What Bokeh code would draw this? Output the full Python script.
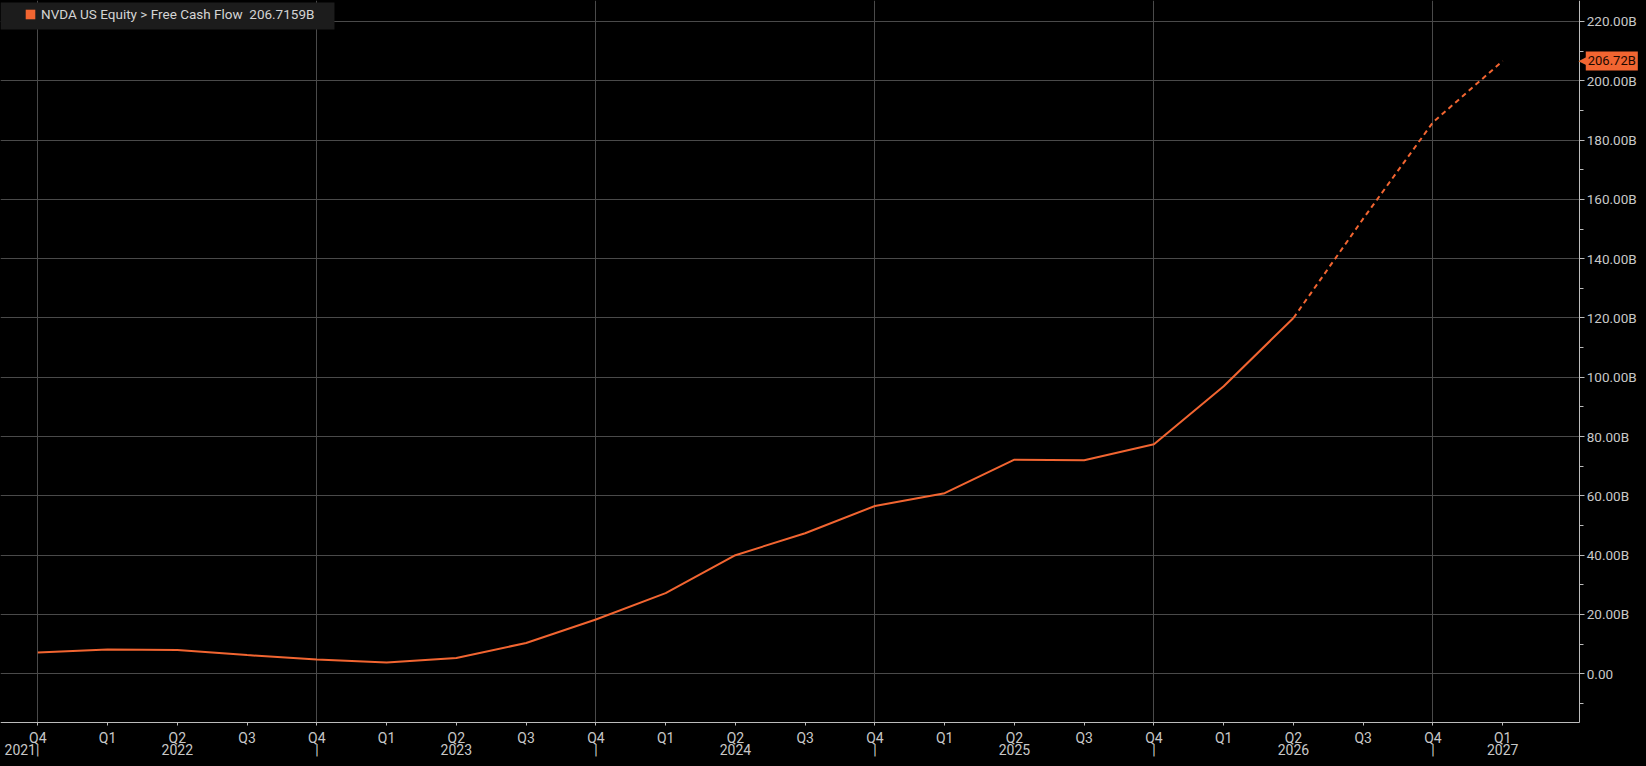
from bokeh.plotting import figure
from bokeh.models import (Range1d, FixedTicker, LinearAxis, CustomJSTickFormatter,
                          Legend, LegendItem, Label, ColumnDataSource, BoxAnnotation)
from bokeh.embed import file_html
from bokeh.resources import INLINE

# ---------------- data ----------------
quarters = ["Q4", "Q1", "Q2", "Q3", "Q4", "Q1", "Q2", "Q3", "Q4", "Q1", "Q2",
            "Q3", "Q4", "Q1", "Q2", "Q3", "Q4", "Q1", "Q2", "Q3", "Q4", "Q1"]
years = [2021, 2022, 2022, 2022, 2022, 2023, 2023, 2023, 2023, 2024, 2024,
         2024, 2024, 2025, 2025, 2025, 2025, 2026, 2026, 2026, 2026, 2027]
fcf = [7.2, 8.2, 8.0, 6.3, 4.8, 3.8, 5.3, 10.4, 18.3, 27.2, 40.0,
       47.4, 56.6, 60.9, 72.2, 72.0, 77.4, 97.0, 120.0, 153.5, 186.0, 206.7159]
n_actual = 19  # first 19 points reported, rest estimates (dashed)
y_ticks = [0, 20, 40, 60, 80, 100, 120, 140, 160, 180, 200, 220]
y_minor = [-10, 10, 30, 50, 70, 90, 110, 130, 150, 170, 190, 210]
series_name = "NVDA US Equity > Free Cash Flow"

# ---------------- style / layout ----------------
ORANGE = "#f26531"
TXT = "#c8c8c8"
GRID = "#4a4a4a"
AXIS = "#bcbcbc"
FONT = "Roboto"

W, H = 1638, 758
X0, X1 = -0.5347, 22.946      # visible quarter-index range
Y0, Y1 = -28.57, 227.08       # visible value range (billions)
X_AXIS_AT = -16.53            # where the time axis line sits
Y_AXIS_AT = 22.104            # where the value axis line sits
LEG_BOX = dict(left=X0, right=4.253, top=226.41, bottom=217.30)  # legend panel

idx = list(range(len(quarters)))

p = figure(width=W, height=H,
           x_range=Range1d(X0, X1), y_range=Range1d(Y0, Y1),
           y_axis_location="right", output_backend="svg", toolbar_location=None,
           background_fill_color="black", border_fill_color="black",
           outline_line_color=None,
           min_border_left=0, min_border_right=0, min_border_top=0, min_border_bottom=0)

# grids
p.xgrid.ticker = FixedTicker(ticks=[i for i in idx if quarters[i] == "Q4"], minor_ticks=[])
p.xgrid.grid_line_color = GRID
p.ygrid.grid_line_color = GRID

# mask grid outside the plotting area (right of value axis, below time axis)
p.add_layout(BoxAnnotation(left=Y_AXIS_AT, fill_color="black", fill_alpha=1.0,
                           line_color=None, level="glyph"))
p.add_layout(BoxAnnotation(top=X_AXIS_AT, fill_color="black", fill_alpha=1.0,
                           line_color=None, level="glyph"))

# lines
src_a = ColumnDataSource(dict(x=idx[:n_actual], y=fcf[:n_actual]))
src_e = ColumnDataSource(dict(x=idx[n_actual - 1:], y=fcf[n_actual - 1:]))
p.line("x", "y", source=src_a, line_color=ORANGE, line_width=2)
p.line("x", "y", source=src_e, line_color=ORANGE, line_width=2, line_dash="5 4")

# y axis (right)
ya = p.yaxis[0]
ya.fixed_location = Y_AXIS_AT
ya.bounds = (X_AXIS_AT, Y1)
ya.ticker = FixedTicker(ticks=y_ticks, minor_ticks=y_minor)
ya.formatter = CustomJSTickFormatter(code="""
    return tick === 0 ? "0.00" : tick.toFixed(2) + "B";
""")
ya.axis_line_color = AXIS
ya.major_tick_line_color = AXIS
ya.minor_tick_line_color = AXIS
ya.major_tick_in = 0
ya.major_tick_out = 5
ya.minor_tick_in = 0
ya.minor_tick_out = 4
ya.major_label_standoff = 2
ya.major_label_text_color = TXT
ya.major_label_text_font = FONT
ya.major_label_text_font_size = "13.5px"

# quarter axis (below)
xa = p.xaxis[0]
xa.fixed_location = X_AXIS_AT
xa.bounds = (X0, Y_AXIS_AT)
xa.ticker = FixedTicker(ticks=idx, minor_ticks=[])
xa.formatter = CustomJSTickFormatter(args=dict(labels=quarters), code="""
    const i = Math.round(tick);
    return (i >= 0 && i < labels.length) ? labels[i] : "";
""")
xa.axis_line_color = AXIS
xa.major_tick_line_color = AXIS
xa.major_tick_in = 0
xa.major_tick_out = 3
xa.major_label_standoff = 4
xa.major_label_text_color = TXT
xa.major_label_text_font = FONT
xa.major_label_text_font_size = "14px"

# year axis (second row)
ypos, ylab = [], []
first_year = years[0]
ypos.append(-0.227)
ylab.append(f"{first_year}|")
for yr in sorted(set(years)):
    if yr == first_year:
        continue
    qs = [i for i in idx if years[i] == yr]
    q2 = [i for i in qs if quarters[i] == "Q2"]
    ypos.append(q2[0] if q2 else qs[0])
    ylab.append(str(yr))
for i in idx:
    if quarters[i] == "Q4" and i != 0:
        ypos.append(i)
        ylab.append("|")
order = sorted(range(len(ypos)), key=lambda k: ypos[k])
ypos = [ypos[k] for k in order]
ylab = [ylab[k] for k in order]

year_axis = LinearAxis(ticker=FixedTicker(ticks=ypos, minor_ticks=[]),
                       formatter=CustomJSTickFormatter(args=dict(pos=ypos, lab=ylab), code="""
    const i = pos.indexOf(tick);
    return i >= 0 ? lab[i] : "";
"""))
year_axis.fixed_location = X_AXIS_AT
year_axis.axis_line_color = None
year_axis.major_tick_line_color = None
year_axis.minor_tick_line_color = None
year_axis.major_tick_out = 0
year_axis.major_tick_in = 0
year_axis.major_label_standoff = 19
year_axis.major_label_text_color = TXT
year_axis.major_label_text_font = FONT
year_axis.major_label_text_font_size = "14px"
p.add_layout(year_axis, "below")

# legend panel background
p.add_layout(BoxAnnotation(**LEG_BOX, fill_color="#1c1c1c", fill_alpha=1.0, line_color=None))

# legend: a hidden square renderer on the latest value supplies the legend swatch
sq = p.rect(x=[idx[-1]], y=[fcf[-1]], width=1, height=1,
            fill_color=ORANGE, line_color=None, visible=False)
legend = Legend(items=[LegendItem(label=f"{series_name}  {fcf[-1]:.4f}B", renderers=[sq])],
                location=(24, 736), margin=0, padding=0, spacing=0,
                glyph_width=12, glyph_height=12, label_standoff=5,
                background_fill_alpha=0.0, border_line_color=None,
                label_text_color="#d4d4d4", label_text_font=FONT,
                label_text_font_size="13.5px")
p.add_layout(legend)

# last value tag
p.add_layout(Label(x=Y_AXIS_AT, y=fcf[-1], x_offset=6, text=f"{fcf[-1]:.2f}B",
                   text_align="left", text_baseline="middle",
                   text_font=FONT, text_font_size="13px", text_color="#1a0800",
                   background_fill_color=ORANGE, background_fill_alpha=1.0,
                   padding=2))
p.add_layout(Label(x=Y_AXIS_AT, y=fcf[-1], x_offset=7, text="◀",
                   text_align="right", text_baseline="middle",
                   text_font="DejaVu Sans", text_font_size="11px", text_color=ORANGE))

template = ("{% block postamble %}<style>html, body { background-color: #000000; "
            "overflow: hidden; }</style>{% endblock %}")
open("out.html", "w").write(file_html(p, INLINE, template=template))
